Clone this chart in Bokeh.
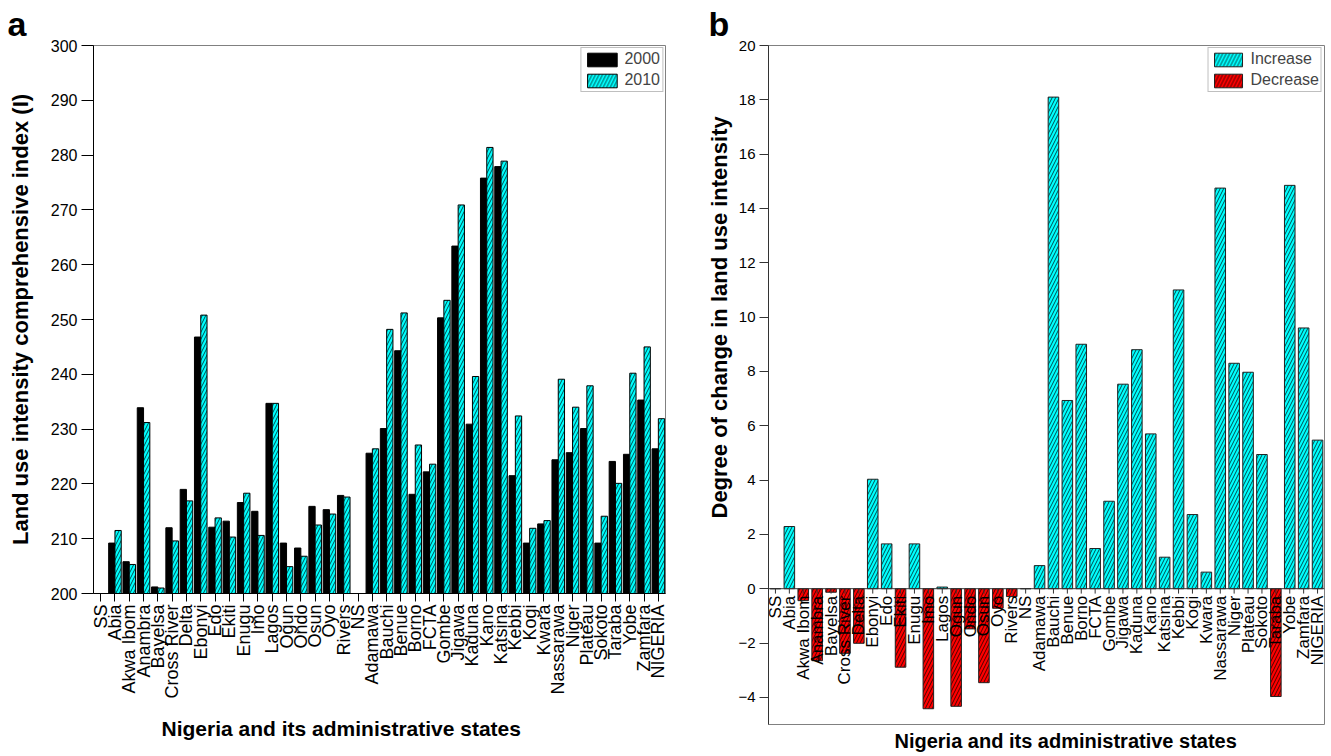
import math
from bokeh.plotting import figure
from bokeh.models import (ColumnDataSource, FactorRange, Range1d, Legend,
                          LegendItem, SingleIntervalTicker, Title, Span)
from bokeh.core.properties import value
from bokeh.transform import dodge
from bokeh.layouts import row, column
from bokeh.embed import file_html
from bokeh.resources import INLINE

FONT = "Liberation Sans"
NaN = float("nan")

states = ["SS", "Abia", "Akwa Ibom", "Anambra", "Bayelsa", "Cross River", "Delta",
          "Ebonyi", "Edo", "Ekiti", "Enugu", "Imo", "Lagos", "Ogun", "Ondo", "Osun",
          "Oyo", "Rivers", "NS", "Adamawa", "Bauchi", "Benue", "Borno", "FCTA",
          "Gombe", "Jigawa", "Kaduna", "Kano", "Katsina", "Kebbi", "Kogi", "Kwara",
          "Nassarawa", "Niger", "Plateau", "Sokoto", "Taraba", "Yobe", "Zamfara",
          "NIGERIA"]

index_2000 = [NaN, 209.2, 205.8, 233.9, 201.2, 212.0, 219.0, 246.8, 212.1, 213.2,
              216.6, 215.0, 234.7, 209.2, 208.3, 215.9, 215.3, 217.9, NaN, 225.6,
              230.1, 244.3, 218.1, 222.2, 250.3, 263.4, 230.9, 275.8, 277.9, 221.5,
              209.2, 212.7, 224.4, 225.7, 230.1, 209.2, 224.1, 225.4, 235.3, 226.4]

index_2010 = [NaN, 211.5, 205.3, 231.2, 201.0, 209.6, 216.9, 250.8, 213.8, 210.3,
              218.3, 210.6, 234.7, 204.9, 206.8, 212.5, 214.5, 217.6, NaN, 226.4,
              248.2, 251.2, 227.1, 223.6, 253.5, 270.9, 239.6, 281.4, 278.9, 232.4,
              211.9, 213.3, 239.1, 234.0, 237.9, 214.1, 220.1, 240.2, 245.0, 231.9]

change = [0.0, 2.29, -0.44, -2.65, -0.13, -2.38, -2.01, 4.03, 1.65, -2.89,
          1.65, -4.42, 0.06, -4.33, -1.48, -3.46, -0.72, -0.29, 0.0, 0.85,
          18.1, 6.93, 9.0, 1.48, 3.22, 7.53, 8.8, 5.7, 1.16, 11.0,
          2.73, 0.61, 14.75, 8.3, 7.97, 4.94, -3.97, 14.85, 9.6, 5.47]

CYAN = "#00FFFF"
RED = "#FF0000"
HATCH = dict(hatch_pattern="/", hatch_color="black", hatch_scale=7, hatch_weight=0.7)

H = 754

# ---------------- panel a ----------------
p1 = figure(x_range=FactorRange(factors=states, range_padding=0),
            y_range=Range1d(200, 300), width=699, height=H,
            output_backend="svg", toolbar_location=None,
            min_border_left=93, min_border_right=34, min_border_top=45,
            min_border_bottom=H - 45 - 548)

rows_a = [(s, v) for s, v in zip(states, index_2000) if not math.isnan(v)]
rows_b = [(s, v) for s, v in zip(states, index_2010) if not math.isnan(v)]
src_a = ColumnDataSource(dict(state=[r[0] for r in rows_a], val=[r[1] for r in rows_a]))
src_b = ColumnDataSource(dict(state=[r[0] for r in rows_b], val=[r[1] for r in rows_b]))

r_a = p1.vbar(x=dodge("state", -0.22, range=p1.x_range), top="val", bottom=200,
              width=0.44, source=src_a, fill_color="black", line_color="black",
              line_width=1)
r_b = p1.vbar(x=dodge("state", 0.22, range=p1.x_range), top="val", bottom=200,
              width=0.44, source=src_b, fill_color=CYAN, line_color="black",
              line_width=1, **HATCH)

leg1 = Legend(items=[LegendItem(label="2000", renderers=[r_a]),
                     LegendItem(label="2010", renderers=[r_b])],
              location="top_right", margin=2, padding=2, spacing=3,
              glyph_width=37, glyph_height=17, label_standoff=4, label_height=17,
              label_text_font=FONT, label_text_font_size="16px",
              border_line_color="#808080", border_line_width=1,
              background_fill_alpha=1)
p1.add_layout(leg1)

p1.grid.visible = False
p1.outline_line_color = "#808080"

p1.title.text = "a"
p1.title.align = "left"
p1.title.offset = -86
p1.title.standoff = 5
p1.title.text_font = FONT
p1.title.text_font_size = "34px"
p1.title.text_font_style = "bold"
p1.title.text_color = "black"

xa = p1.xaxis[0]
xa.major_label_orientation = math.pi / 2
xa.major_label_text_font = FONT
xa.major_label_text_font_size = "18px"
xa.major_label_text_color = "black"
xa.major_label_standoff = 3
xa.major_tick_out = 8
xa.major_tick_in = 0
xa.axis_line_color = "black"
xa.major_tick_line_color = "black"

p1.add_layout(Title(text="Nigeria and its administrative states", align="left",
                    offset=68, standoff=27, text_font=FONT, text_font_size="21px",
                    text_font_style="bold", text_color="black"), "below")

ya = p1.yaxis[0]
ya.ticker = SingleIntervalTicker(interval=10, num_minor_ticks=0)
ya.major_tick_out = 12
ya.major_tick_in = 0
ya.minor_tick_out = 0
ya.minor_tick_in = 0
ya.major_label_text_font = FONT
ya.major_label_text_font_size = "16px"
ya.major_label_text_color = "black"
ya.major_label_standoff = 4
ya.axis_line_color = "black"
ya.major_tick_line_color = "black"
ya.axis_label = "Land use intensity comprehensive index (I)"
ya.axis_label_text_font = FONT
ya.axis_label_text_font_size = "22px"
ya.axis_label_text_font_style = "bold"
ya.axis_label_text_color = "black"
ya.axis_label_standoff = 15

# ---------------- panel b ----------------
p2 = figure(x_range=FactorRange(factors=states, range_padding=0),
            y_range=Range1d(-5, 20), width=627, height=H,
            output_backend="svg", toolbar_location=None,
            min_border_left=69, min_border_right=2, min_border_top=45,
            min_border_bottom=H - 45 - 680)

inc = [(s, v) for s, v in zip(states, change) if v >= 0]
dec = [(s, v) for s, v in zip(states, change) if v < 0]
src_inc = ColumnDataSource(dict(state=[r[0] for r in inc], val=[r[1] for r in inc]))
src_dec = ColumnDataSource(dict(state=[r[0] for r in dec], val=[r[1] for r in dec]))

r_inc = p2.vbar(x="state", top="val", bottom=0, width=0.76, source=src_inc,
                fill_color=CYAN, line_color="#222222", line_width=1, **HATCH)
r_dec = p2.vbar(x="state", top="val", bottom=0, width=0.76, source=src_dec,
                fill_color=RED, line_color="#222222", line_width=1, **HATCH)

# category axis drawn along the zero line
src_cat = ColumnDataSource(dict(state=states, zero=[0.0] * len(states),
                                tick=[-0.18] * len(states)))
p2.add_layout(Span(location=0, dimension="width", line_color="#333333", line_width=1))
p2.segment(x0="state", y0="zero", x1="state", y1="tick", source=src_cat,
           line_color="#333333", line_width=1)
p2.text(x="state", y="zero", text="state", source=src_cat, angle=math.pi / 2,
        text_align="right", text_baseline="middle", y_offset=7,
        text_font=value(FONT), text_font_size="17px", text_color="black")

leg2 = Legend(items=[LegendItem(label="Increase", renderers=[r_inc]),
                     LegendItem(label="Decrease", renderers=[r_dec])],
              location="top_right", margin=2, padding=2, spacing=3,
              glyph_width=35, glyph_height=17, label_standoff=5, label_height=17,
              label_text_font=FONT, label_text_font_size="16px",
              border_line_color="#808080", border_line_width=1,
              background_fill_alpha=1)
p2.add_layout(leg2)

p2.grid.visible = False
p2.outline_line_color = "#808080"
p2.xaxis.visible = False

p2.title.text = "b"
p2.title.align = "left"
p2.title.offset = -60
p2.title.standoff = 5
p2.title.text_font = FONT
p2.title.text_font_size = "34px"
p2.title.text_font_style = "bold"
p2.title.text_color = "black"

p2.add_layout(Title(text="Nigeria and its administrative states", align="left",
                    offset=126, standoff=6, text_font=FONT, text_font_size="20px",
                    text_font_style="bold", text_color="black"), "below")

yb = p2.yaxis[0]
yb.ticker = SingleIntervalTicker(interval=2, num_minor_ticks=0)
yb.major_tick_out = 9
yb.major_tick_in = 0
yb.minor_tick_out = 0
yb.minor_tick_in = 0
yb.major_label_text_font = FONT
yb.major_label_text_font_size = "15px"
yb.major_label_text_color = "black"
yb.major_label_standoff = 4
yb.axis_line_color = "#333333"
yb.major_tick_line_color = "#333333"

p2.add_layout(Title(text="Degree of change in land use intensity", align="left",
                    offset=206, standoff=7, text_font=FONT, text_font_size="22px",
                    text_font_style="bold", text_color="black"), "left")

layout = row(column(p1), column(p2), spacing=0)
open("out.html", "w").write(file_html(layout, INLINE))
